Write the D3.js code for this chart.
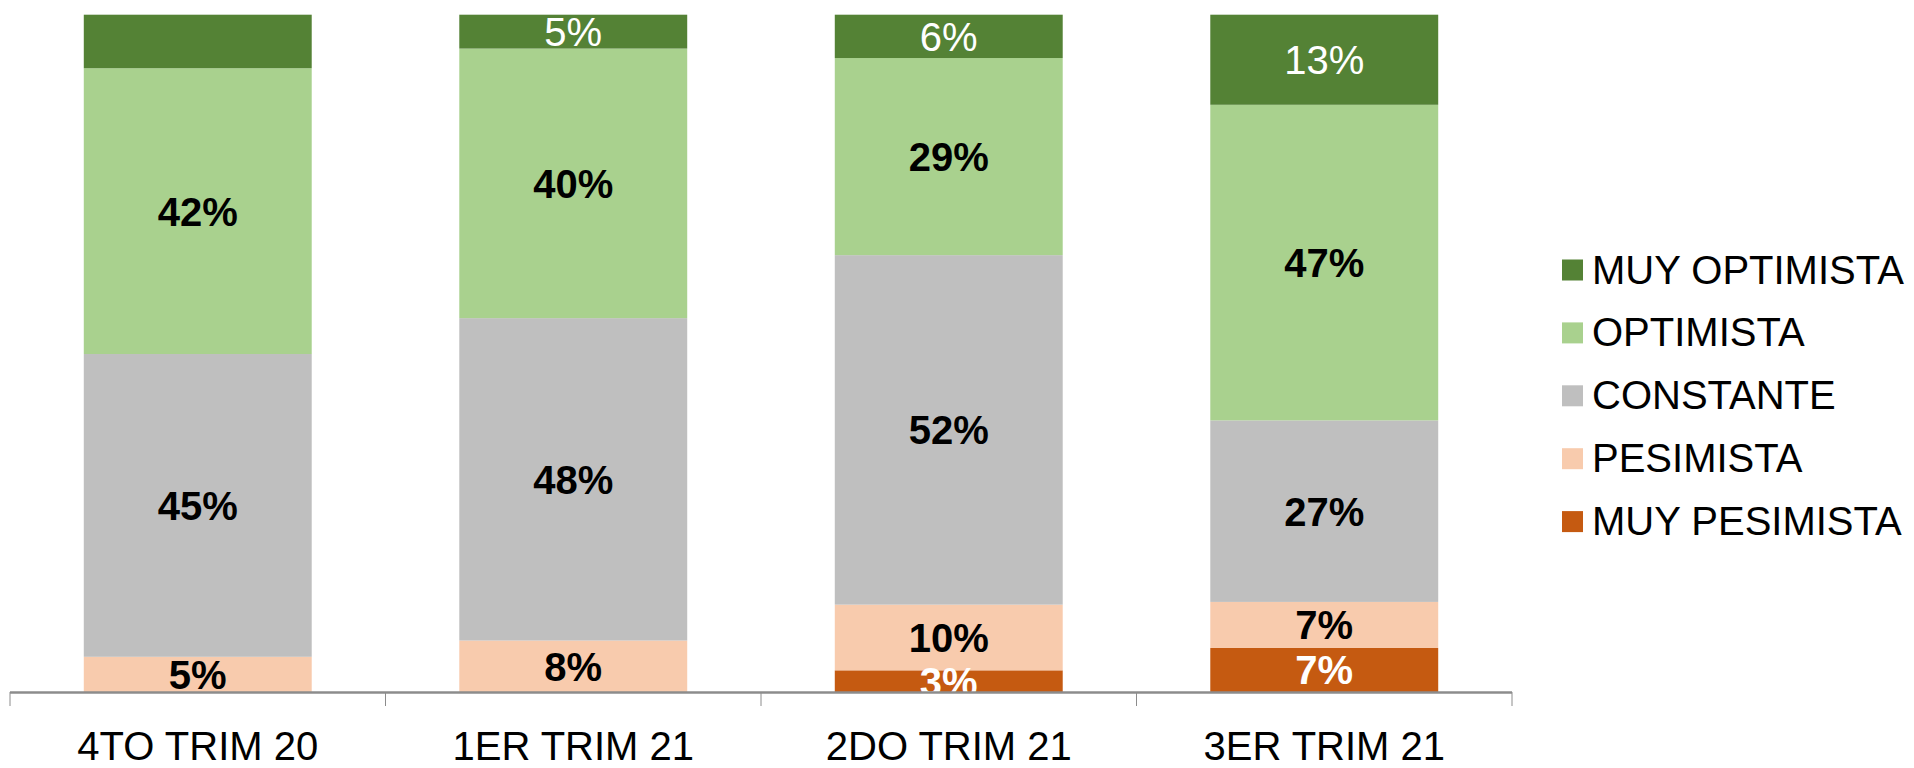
<!DOCTYPE html>
<html>
<head>
<meta charset="utf-8">
<script src="https://cdn.jsdelivr.net/npm/d3@7"></script>
<style>
  body { margin: 0; background: #fff; }
  text { font-family: "Liberation Sans", Arial, sans-serif; }
</style>
</head>
<body>
<script>
// categories and series (values in %)
var categories = ["4TO TRIM 20", "1ER TRIM 21", "2DO TRIM 21", "3ER TRIM 21"];
var seriesNames = ["MUY PESIMISTA", "PESIMISTA", "CONSTANTE", "OPTIMISTA", "MUY OPTIMISTA"];
var muyPesimista = [0, 0, 3.2, 6.5];
var pesimista = [5.2, 7.6, 9.7, 6.8];
var constante = [44.7, 47.6, 51.6, 26.8];
var optimista = [42.2, 39.8, 29.1, 46.6];
var muyOptimista = [7.9, 5.0, 6.4, 13.3];
// the first bar carries no label on its top segment
var muyOptimistaShown = [false, true, true, true];

var colors = {
  "MUY OPTIMISTA": "#548235",
  "OPTIMISTA": "#a9d18e",
  "CONSTANTE": "#bfbfbf",
  "PESIMISTA": "#f8cbad",
  "MUY PESIMISTA": "#c55a11"
};
var labelStyle = {
  "MUY OPTIMISTA": { fill: "#fff", weight: "normal" },
  "OPTIMISTA": { fill: "#000", weight: "bold" },
  "CONSTANTE": { fill: "#000", weight: "bold" },
  "PESIMISTA": { fill: "#000", weight: "bold" },
  "MUY PESIMISTA": { fill: "#fff", weight: "bold" }
};

var table = categories.map(function (c, i) {
  return {
    cat: c,
    "MUY PESIMISTA": muyPesimista[i],
    "PESIMISTA": pesimista[i],
    "CONSTANTE": constante[i],
    "OPTIMISTA": optimista[i],
    "MUY OPTIMISTA": muyOptimista[i],
    showTop: muyOptimistaShown[i]
  };
});

var W = 1914, H = 768;
var plotLeft = 10, plotRight = 1512, plotTop = 14.7, plotBottom = 692;

var svg = d3.select("body").append("svg")
  .attr("width", W)
  .attr("height", H);

var x = d3.scaleBand()
  .domain(categories)
  .range([plotLeft, plotRight])
  .paddingInner(0.393)
  .paddingOuter(0.1965);

var y = d3.scaleLinear().domain([0, 1]).range([plotBottom, plotTop]);

var stack = d3.stack()
  .keys(seriesNames)
  .offset(d3.stackOffsetExpand);
var layers = stack(table);

svg.append("clipPath").attr("id", "plot")
  .append("rect")
  .attr("x", 0).attr("y", 0)
  .attr("width", plotRight + 10).attr("height", plotBottom + 2);

// bars
var g = svg.append("g");
g.selectAll("g.layer")
  .data(layers)
  .join("g")
  .attr("class", "layer")
  .attr("fill", function (d) { return colors[d.key]; })
  .selectAll("rect")
  .data(function (d) { return d; })
  .join("rect")
  .attr("x", function (d) { return x(d.data.cat); })
  .attr("y", function (d) { return y(d[1]); })
  .attr("width", x.bandwidth())
  .attr("height", function (d) { return y(d[0]) - y(d[1]); });

// value labels
var lg = svg.append("g").attr("clip-path", "url(#plot)");
layers.forEach(function (layer) {
  var st = labelStyle[layer.key];
  layer.forEach(function (d) {
    var v = d.data[layer.key];
    if (!v) return;
    if (layer.key === "MUY OPTIMISTA" && !d.data.showTop) return;
    lg.append("text")
      .attr("x", x(d.data.cat) + x.bandwidth() / 2)
      .attr("y", (y(d[0]) + y(d[1])) / 2)
      .attr("dy", "0.36em")
      .attr("text-anchor", "middle")
      .attr("font-size", 40)
      .attr("font-weight", st.weight)
      .attr("fill", st.fill)
      .text(Math.round(v) + "%");
  });
});

// x axis: labels from d3 axis, boundary ticks drawn separately
var xAxis = svg.append("g")
  .attr("transform", "translate(0," + plotBottom + ")")
  .call(d3.axisBottom(x).tickSize(0).tickPadding(0));
xAxis.select(".domain").remove();
xAxis.selectAll("text")
  .attr("y", 68)
  .attr("dy", 0)
  .attr("font-size", 40)
  .attr("fill", "#000")
  .style("font-family", "'Liberation Sans', Arial, sans-serif");

var bounds = d3.range(categories.length + 1).map(function (i) {
  return x.range()[0] + i * x.step();
});
svg.append("g").selectAll("line")
  .data(bounds)
  .join("line")
  .attr("x1", function (d) { return d; })
  .attr("x2", function (d) { return d; })
  .attr("y1", plotBottom)
  .attr("y2", plotBottom + 14)
  .attr("stroke", "#8c8c8c")
  .attr("stroke-width", 1);

svg.append("line")
  .attr("x1", plotLeft).attr("x2", plotRight)
  .attr("y1", plotBottom + 0.5).attr("y2", plotBottom + 0.5)
  .attr("stroke", "#8c8c8c")
  .attr("stroke-width", 2.5);

// legend
var legendOrder = seriesNames.slice().reverse();
var leg = svg.append("g").attr("transform", "translate(1562,270)");
var item = leg.selectAll("g")
  .data(legendOrder)
  .join("g")
  .attr("transform", function (d, i) { return "translate(0," + (i * 62.9) + ")"; });
item.append("rect")
  .attr("x", 0).attr("y", -10.5)
  .attr("width", 21).attr("height", 21)
  .attr("fill", function (d) { return colors[d]; });
item.append("text")
  .attr("x", 30)
  .attr("y", 13.5)
  .attr("font-size", 40)
  .attr("fill", "#000")
  .text(function (d) { return d; });
</script>
</body>
</html>
